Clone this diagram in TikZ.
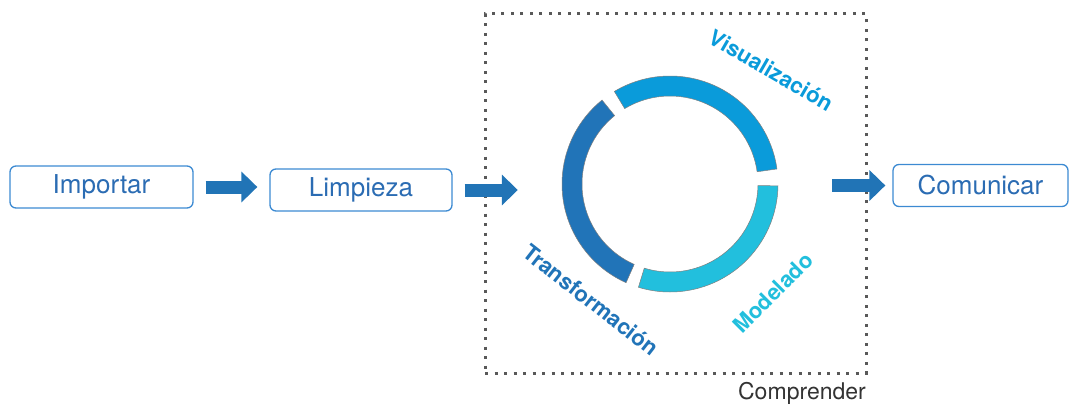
\documentclass[tikz,border=0pt]{standalone}
\usepackage{fontspec}
\setmainfont{TeX Gyre Heros}
\usetikzlibrary{arrows.meta}

\definecolor{vis}{HTML}{0A9BDA}
\definecolor{trans}{HTML}{2174B8}
\definecolor{model}{HTML}{22BFDD}
\definecolor{arrowblue}{HTML}{2174B6}
\definecolor{boxline}{HTML}{3C8AD2}
\definecolor{boxtext}{HTML}{2B6CB3}

\tikzset{
  stage/.style={draw=boxline, line width=1.3pt, rounded corners=6pt, text=boxtext,
    minimum height=42pt, inner sep=0pt, font=\fontsize{26}{31}\selectfont},
  bigarrow/.style={arrowblue, line width=13pt, -{Triangle[width=30pt,length=16pt]}},
  ringlabel/.style={font=\bfseries\fontsize{22}{26}\selectfont, inner sep=0pt},
}

\begin{document}
\begin{tikzpicture}[x=1pt, y=1pt]
\useasboundingbox (0,0) rectangle (1070,405);
\node[stage, minimum width=183pt] (imp) at (101.5,218) {Importar};
\node[stage, minimum width=182pt] (lim) at (361,215) {Limpieza};
\node[stage, minimum width=175pt] (com) at (980.5,219.5) {Comunicar};
\node[draw=black!65, line width=3pt, dash pattern=on 3pt off 6.5pt,
  minimum width=381pt, minimum height=359pt, inner sep=0pt] (comp) at (675.5,211.5) {};
\node[anchor=base east, text=black!80, inner sep=0pt,
  font=\fontsize{23}{27}\selectfont] (compl) at (866,6) {Comprender};
\node[circle, minimum size=216pt, inner sep=0pt] (ring) at (670,221) {};
\foreach \a/\b/\c in {8/121/vis, 129/246/trans, 253/359/model}
  \filldraw[fill=\c, draw=black!50, line width=0.5pt]
    ([shift={(\a:108pt)}]ring.center) arc[start angle=\a, end angle=\b, radius=108pt]
    -- ([shift={(\b:88pt)}]ring.center) arc[start angle=\b, end angle=\a, radius=88pt]
    -- cycle;
\node[ringlabel, text=vis, rotate=-30] (lvis) at (771,335) {Visualización};
\node[ringlabel, text=trans, rotate=-38] (ltrans) at (591,105) {Transformación};
\node[ringlabel, text=model, rotate=45] (lmodel) at (773,112) {Modelado};
\draw[bigarrow, shorten <=12pt, shorten >=12pt] (imp.east) -- (imp.east -| lim.west);
\draw[bigarrow, shorten <=12pt, shorten >=44pt] (lim.east) -- (lim.east -| ring.west);
\draw[bigarrow, shorten <=54pt, shorten >=7pt] (com.west -| ring.east) -- (com.west);
\end{tikzpicture}
\end{document}
